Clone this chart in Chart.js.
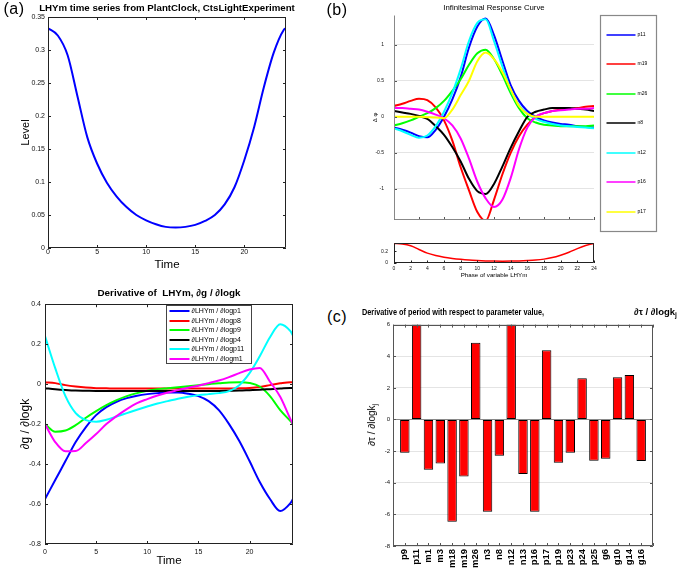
<!DOCTYPE html>
<html>
<head>
<meta charset="utf-8">
<script src="https://cdn.jsdelivr.net/npm/chart.js@4.4.1/dist/chart.umd.min.js"></script>
<style>
  html, body { margin: 0; padding: 0; background: #fff; }
  body { position: relative; width: 685px; height: 569px; overflow: hidden; font-family: 'Liberation Sans', Arial, sans-serif; color: #000; }
  canvas { position: absolute; }
  .txt { position: absolute; white-space: nowrap; line-height: 1; }
  .c { transform: translate(-50%, -50%); }
  sub { font-size: 70%; vertical-align: -2px; line-height: 0; }
</style>
</head>
<body>
<canvas id="cA1" width="300" height="275" style="left:0;top:0"></canvas>
<canvas id="cA2" width="305" height="273" style="left:0;top:296px"></canvas>
<canvas id="cB1" width="300" height="233" style="left:366px;top:0"></canvas>
<canvas id="cB2" width="240" height="48" style="left:366px;top:234px"></canvas>
<canvas id="cC" width="307" height="251" style="left:378px;top:318px"></canvas>

<div class="txt c" style="left:14px;top:9px;font-size:16px;letter-spacing:0.5px">(a)</div>
<div class="txt c" style="left:337px;top:10px;font-size:16px;letter-spacing:0.5px">(b)</div>
<div class="txt c" style="left:337px;top:317px;font-size:16px;letter-spacing:0.5px">(c)</div>
<div class="txt c" style="left:167px;top:8px;font-weight:bold;font-size:9.7px">LHYm time series from PlantClock, CtsLightExperiment</div>
<div class="txt c" style="left:169px;top:293px;font-weight:bold;font-size:9.9px">Derivative of&nbsp; LHYm, ∂g / ∂logk</div>
<div class="txt c" style="left:494px;top:8px;font-size:7.8px">Infinitesimal Response Curve</div>
<div class="txt" style="left:362px;top:307px;font-weight:bold;font-size:9.5px;transform:scaleX(0.77);transform-origin:0 0">Derivative of period with respect to parameter value,</div>
<div class="txt" style="left:634px;top:307px;font-weight:bold;font-size:9.5px">∂τ / ∂logk<sub>j</sub></div>
<div class="txt" style="left:372px;top:425px;font-size:10px;transform:translate(-50%,-50%) rotate(-90deg)">∂τ / ∂logk<sub>j</sub></div>

<script>
// ---------------- DATA ----------------
// (a) top: LHYm time series
const timeA = [0,1,2,3,4,5,6,7,8,9,10,11,12,13,14,15,16,17,18,19,20,21,22,23,24,24.25];
const lhymLevel = [0.333,0.322,0.292,0.230,0.168,0.128,0.099,0.078,0.062,0.050,0.042,0.036,0.032,0.031,0.032,0.035,0.041,0.050,0.066,0.092,0.133,0.183,0.244,0.296,0.330,0.333];

// (a) bottom: derivatives of LHYm
const derivLabels = ['∂LHYm / ∂logp1','∂LHYm / ∂logp8','∂LHYm / ∂logp9','∂LHYm / ∂logp4','∂LHYm / ∂logp11','∂LHYm / ∂logm1'];
const dP1  = [-0.575,-0.48,-0.385,-0.29,-0.215,-0.155,-0.115,-0.088,-0.07,-0.058,-0.05,-0.045,-0.042,-0.042,-0.048,-0.06,-0.085,-0.13,-0.2,-0.285,-0.385,-0.49,-0.575,-0.635,-0.595,-0.575];
const dP8  = [0.01,0.005,-0.005,-0.012,-0.017,-0.02,-0.021,-0.022,-0.022,-0.022,-0.022,-0.022,-0.022,-0.022,-0.022,-0.022,-0.022,-0.022,-0.022,-0.021,-0.019,-0.014,-0.005,0.004,0.01,0.009];
const dP9  = [-0.2,-0.238,-0.232,-0.205,-0.168,-0.135,-0.105,-0.08,-0.06,-0.045,-0.033,-0.025,-0.02,-0.015,-0.01,-0.005,0,0.004,0.008,0.01,0.006,-0.012,-0.06,-0.13,-0.185,-0.2];
const dP4  = [-0.02,-0.025,-0.029,-0.032,-0.033,-0.034,-0.034,-0.034,-0.034,-0.034,-0.034,-0.034,-0.034,-0.034,-0.034,-0.034,-0.034,-0.034,-0.033,-0.032,-0.03,-0.028,-0.025,-0.022,-0.019,-0.02];
const dP11 = [0.24,0.08,-0.06,-0.145,-0.18,-0.188,-0.178,-0.162,-0.145,-0.128,-0.112,-0.097,-0.085,-0.073,-0.063,-0.055,-0.05,-0.045,-0.035,-0.005,0.055,0.14,0.235,0.3,0.265,0.243];
const dM1  = [-0.2,-0.29,-0.336,-0.335,-0.295,-0.25,-0.2,-0.16,-0.125,-0.095,-0.075,-0.057,-0.042,-0.03,-0.018,-0.008,0.005,0.018,0.035,0.055,0.073,0.081,0.012,-0.063,-0.175,-0.2];

// (b) infinitesimal response curves
const phaseB = [0,1,2,3,4,5,6,7,8,9,10,11,12,13,14,15,16,17,18,19,20,21,22,23,24];
const ircLabels = ['p11','m19','m26','n8','n12','p16','p17'];
const ircP11 = [-0.15,-0.18,-0.22,-0.27,-0.285,-0.18,0.0,0.24,0.55,0.96,1.25,1.36,1.13,0.78,0.44,0.22,0.08,0.0,-0.05,-0.08,-0.1,-0.11,-0.13,-0.14,-0.15];
const ircM19 = [0.15,0.18,0.22,0.25,0.23,0.13,-0.05,-0.33,-0.7,-1.02,-1.32,-1.44,-1.15,-0.8,-0.5,-0.27,-0.11,0.0,0.05,0.08,0.1,0.11,0.12,0.14,0.15];
const ircM26 = [-0.12,-0.09,-0.05,0.0,0.05,0.12,0.22,0.36,0.52,0.72,0.88,0.93,0.8,0.58,0.33,0.12,-0.02,-0.08,-0.11,-0.12,-0.13,-0.13,-0.13,-0.13,-0.12];
const ircN8  = [0.08,0.06,0.04,0.01,-0.03,-0.13,-0.25,-0.42,-0.62,-0.86,-1.03,-1.07,-0.93,-0.69,-0.43,-0.2,0.0,0.07,0.1,0.12,0.12,0.12,0.11,0.1,0.08];
const ircN12 = [-0.16,-0.2,-0.25,-0.29,-0.26,-0.13,0.07,0.33,0.66,1.05,1.3,1.35,1.05,0.7,0.37,0.16,0.04,-0.03,-0.07,-0.1,-0.12,-0.13,-0.14,-0.15,-0.16];
const ircP16 = [0.12,0.12,0.11,0.1,0.07,0.03,-0.02,-0.12,-0.3,-0.58,-0.9,-1.13,-1.25,-1.15,-0.85,-0.45,-0.15,0.0,0.05,0.08,0.09,0.1,0.11,0.11,0.12];
const ircP17 = [0,0,0,0,-0.005,-0.01,-0.02,0.1,0.3,0.5,0.77,0.89,0.8,0.62,0.38,0.15,0.04,0,0,0,0,0,0,0,0];

// (c) period derivatives
const paramNames = ['p9','p11','m1','m3','m18','m19','m26','n3','n8','n12','n13','p16','p17','p19','p23','p24','p25','g6','g10','g14','g16'];
const periodDeriv = [-2.1,6,-3.18,-2.78,-6.46,-3.6,4.85,-5.83,-2.29,6,-3.45,-5.83,4.38,-2.74,-2.1,2.6,-2.61,-2.48,2.67,2.82,-2.63];

// ---------------- STYLE ----------------
const BLUE='#0000ff', RED='#ff0000', GREEN='#00ff00', BLACK='#000000', CYAN='#00ffff', MAGENTA='#ff00ff', YELLOW='#ffff00';
Chart.defaults.font.family = "'Liberation Sans', Arial, Helvetica, sans-serif";
Chart.defaults.color = '#111';
const fmt = v => String(Number(Number(v).toFixed(6)));

// MATLAB-like frame: box and inward tick marks at the scales' ticks
const frame = {
  id: 'frame',
  afterDatasetsDraw(chart, args, o) {
    const {ctx, chartArea: a} = chart;
    const xs = chart.scales.x, ys = chart.scales.y;
    const L = o.tickLen || 3;
    ctx.save();
    ctx.strokeStyle = o.color || '#000';
    ctx.lineWidth = 1;
    ctx.beginPath();
    xs.ticks.forEach(t => {
      const p = Math.round(xs.getPixelForValue(t.value)) + 0.5;
      ctx.moveTo(p, a.bottom); ctx.lineTo(p, a.bottom - L);
      if (o.mirror) { ctx.moveTo(p, a.top); ctx.lineTo(p, a.top + L); }
    });
    ys.ticks.forEach(t => {
      const p = Math.round(ys.getPixelForValue(t.value)) + 0.5;
      ctx.moveTo(a.left, p); ctx.lineTo(a.left + L, p);
      if (o.mirror) { ctx.moveTo(a.right, p); ctx.lineTo(a.right - L, p); }
    });
    ctx.stroke();
    ctx.strokeStyle = o.lineColor || o.color || '#000';
    ctx.beginPath();
    const l = Math.round(a.left) + 0.5, r = Math.round(a.right) - 0.5, t = Math.round(a.top) + 0.5, b = Math.round(a.bottom) - 0.5;
    if (o.box) ctx.rect(l, t, r - l, b - t);
    else { ctx.moveTo(l, t); ctx.lineTo(l, b); ctx.lineTo(r, b); }
    ctx.stroke();
    ctx.restore();
  }
};

// Boxed legend built from the datasets
const boxLegend = {
  id: 'boxLegend',
  afterDraw(chart, args, o) {
    if (!o || !o.display) return;
    const {ctx, chartArea: a} = chart;
    const ax = o.anchor === 'right' ? a.right : a.left;
    const bx = Math.round(ax + o.x) + 0.5, by = Math.round(a.top + o.y) + 0.5;
    ctx.save();
    ctx.fillStyle = '#fff';
    ctx.fillRect(bx, by, o.w, o.h);
    ctx.strokeStyle = o.borderColor; ctx.lineWidth = o.borderWidth;
    ctx.strokeRect(bx, by, o.w, o.h);
    ctx.font = o.font; ctx.textBaseline = 'middle'; ctx.textAlign = 'left';
    chart.data.datasets.forEach((ds, i) => {
      const y = Math.round(by + o.row0 + i * o.rowStep);
      ctx.strokeStyle = ds.borderColor; ctx.lineWidth = o.lineWidth;
      ctx.beginPath(); ctx.moveTo(bx + o.line0, y); ctx.lineTo(bx + o.line1, y); ctx.stroke();
      ctx.fillStyle = '#000';
      ctx.fillText(ds.label, bx + o.text, y);
    });
    ctx.restore();
  }
};

function lineDS(label, xs, ys, color, width, order) {
  return { label, data: xs.map((x, i) => ({x, y: ys[i]})), borderColor: color, backgroundColor: color,
           borderWidth: width, pointRadius: 0, cubicInterpolationMode: 'monotone', fill: false, order };
}

function opts({yW, xH, pad, x, y, frameOpts, legend}) {
  return {
    responsive: false, animation: false, devicePixelRatio: 1,
    layout: { padding: pad },
    plugins: { legend: { display: false }, tooltip: { enabled: false }, title: { display: false },
               frame: frameOpts, boxLegend: legend || { display: false } },
    scales: {
      x: Object.assign({ type: 'linear', offset: false, border: { display: false }, afterFit: s => { s.height = xH; } }, x),
      y: Object.assign({ type: 'linear', border: { display: false }, afterFit: s => { s.width = yW; } }, y)
    }
  };
}

// (a) top
new Chart(document.getElementById('cA1'), {
  type: 'line',
  data: { datasets: [lineDS('LHYm', timeA, lhymLevel, BLUE, 2, 0)] },
  options: opts({
    yW: 48, xH: 27, pad: { left: 0, top: 17, right: 14, bottom: 0 },
    x: { min: 0, max: 24.25, grid: { display: false, drawTicks: false },
         ticks: { stepSize: 5, includeBounds: false, padding: 0, maxRotation: 0, font: { size: 7 }, callback: fmt },
         title: { display: true, text: 'Time', font: { size: 11.5 }, padding: { top: 0, bottom: 3 }, color: '#000' } },
    y: { min: 0, max: 0.35, grid: { display: false, drawTicks: false },
         ticks: { stepSize: 0.05, padding: 3, font: { size: 7 }, callback: fmt },
         title: { display: true, text: 'Level', font: { size: 11 }, padding: { top: 19, bottom: 0 }, color: '#000' } },
    frameOpts: { box: true, mirror: true, tickLen: 3, color: '#222' }
  }),
  plugins: [frame]
});

// (a) bottom
const derivSeries = [dP1, dP8, dP9, dP4, dP11, dM1];
const derivColors = [BLUE, RED, GREEN, BLACK, CYAN, MAGENTA];
new Chart(document.getElementById('cA2'), {
  type: 'line',
  data: { datasets: derivSeries.map((s, i) => lineDS(derivLabels[i], timeA, s, derivColors[i], 2, derivSeries.length - i)) },
  options: opts({
    yW: 45, xH: 25, pad: { left: 0, top: 6, right: 12, bottom: 0 },
    x: { min: 0, max: 24.25, grid: { display: false, drawTicks: false },
         ticks: { stepSize: 5, includeBounds: false, padding: 3.5, maxRotation: 0, font: { size: 7 }, callback: fmt },
         title: { display: true, text: 'Time', font: { size: 11.5 }, padding: { top: 0, bottom: 1 }, color: '#000' } },
    y: { min: -0.8, max: 0.4, grid: { display: false, drawTicks: false },
         ticks: { stepSize: 0.2, padding: 4, font: { size: 7 }, callback: fmt },
         title: { display: true, text: '∂g / ∂logk', font: { size: 12 }, padding: { top: 18, bottom: 0 }, color: '#000' } },
    frameOpts: { box: true, mirror: true, tickLen: 3, color: '#222' },
    legend: { display: true, x: 121, y: 1, w: 85, h: 58, row0: 5.5, rowStep: 9.5, line0: 3, line1: 23, text: 25,
              font: "7px 'Liberation Sans', Arial, sans-serif", lineWidth: 2, borderColor: '#444', borderWidth: 1 }
  }),
  plugins: [frame, boxLegend]
});

// (b) main
const ircSeries = [ircP11, ircM19, ircM26, ircN8, ircN12, ircP16, ircP17];
const ircColors = [BLUE, RED, GREEN, BLACK, CYAN, MAGENTA, YELLOW];
new Chart(document.getElementById('cB1'), {
  type: 'line',
  data: { datasets: ircSeries.map((s, i) => lineDS(ircLabels[i], phaseB, s, ircColors[i], 2, ircSeries.length - i)) },
  options: opts({
    yW: 28, xH: 2, pad: { left: 0, top: 15, right: 72, bottom: 0 },
    x: { min: 0, max: 24, grid: { display: false, drawTicks: false }, ticks: { stepSize: 3, display: false } },
    y: { min: -1.43, max: 1.41, grid: { color: '#e4e4e4', drawTicks: false },
         ticks: { stepSize: 0.5, includeBounds: false, padding: 10, font: { size: 5 }, callback: fmt },
         title: { display: true, text: 'Δ φ', font: { size: 6 }, padding: { top: 5.5, bottom: 0 }, color: '#000' } },
    frameOpts: { box: false, mirror: false, tickLen: 3, color: '#555', lineColor: '#888' },
    legend: { display: true, anchor: 'right', x: 6, y: 0, w: 56, h: 216, row0: 19, rowStep: 29.5, line0: 6, line1: 35, text: 37,
              font: "5px 'Liberation Sans', Arial, sans-serif", lineWidth: 1.5, borderColor: '#888', borderWidth: 1.2 }
  }),
  plugins: [frame, boxLegend]
});

// (b) bottom strip: LHYm over phase
new Chart(document.getElementById('cB2'), {
  type: 'line',
  data: { datasets: [lineDS('LHYm', timeA, lhymLevel, RED, 1.5, 0)] },
  options: opts({
    yW: 28, xH: 19, pad: { left: 0, top: 5, right: 12, bottom: 0 },
    x: { min: 0, max: 24, grid: { display: false, drawTicks: false },
         ticks: { stepSize: 2, padding: 2.3, maxRotation: 0, autoSkip: false, font: { size: 5 }, callback: fmt },
         title: { display: true, text: 'Phase of variable LHYm', font: { size: 6.2 }, padding: { top: 0, bottom: 2.8 }, color: '#000' } },
    y: { min: 0, max: 0.34, grid: { display: false, drawTicks: false },
         ticks: { stepSize: 0.2, includeBounds: false, padding: 6, font: { size: 5 }, callback: fmt } },
    frameOpts: { box: true, mirror: false, tickLen: 2.5, color: '#222' }
  }),
  plugins: [frame]
});

// (c) bar chart
new Chart(document.getElementById('cC'), {
  type: 'bar',
  data: { datasets: [{ label: '∂τ / ∂logk', data: paramNames.map((n, i) => ({ x: i + 1, y: periodDeriv[i] })),
                       backgroundColor: RED, borderColor: '#000', borderWidth: 1, borderSkipped: false,
                       categoryPercentage: 0.8, barPercentage: 1 }] },
  options: opts({
    yW: 15, xH: 23, pad: { left: 0, top: 6, right: 32, bottom: 0 },
    x: { min: 0, max: 22, grid: { display: false, drawTicks: false, offset: false },
         ticks: { stepSize: 1, autoSkip: false, minRotation: 90, maxRotation: 90, padding: 3,
                  font: { size: 9.5, weight: 'bold' }, color: '#000', callback: v => paramNames[v - 1] || '' } },
    y: { min: -8, max: 6, grid: { color: c => (c.tick && c.tick.value === 0) ? '#8a8a8a' : '#e4e4e4', drawTicks: false },
         ticks: { stepSize: 2, padding: 3, font: { size: 6 }, callback: fmt } },
    frameOpts: { box: true, mirror: true, tickLen: 3, color: '#555' }
  }),
  plugins: [frame]
});
</script>
</body>
</html>
